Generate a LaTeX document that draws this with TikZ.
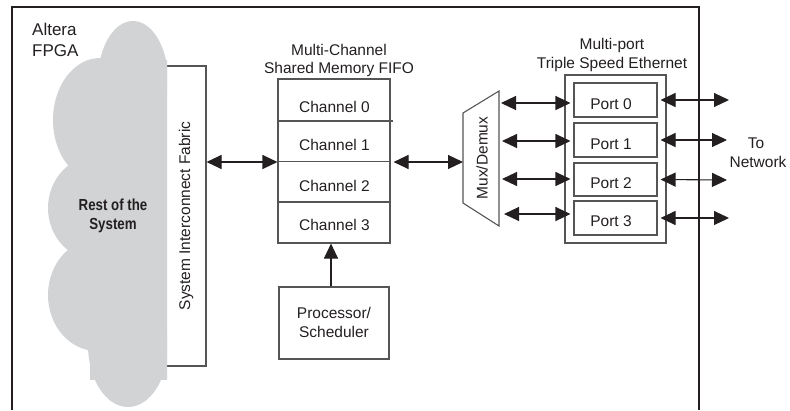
\documentclass[tikz,border=0pt]{standalone}
\usepackage{fontspec}
\setmainfont{Liberation Sans}
\newfontfamily\condb{Liberation Sans}[FakeStretch=0.83]
\usetikzlibrary{arrows.meta,calc}
\definecolor{boxgray}{HTML}{555555}
\definecolor{txt}{HTML}{231F20}
\definecolor{cloudc}{HTML}{D1D3D4}
\begin{document}
\begin{tikzpicture}[x=1pt,y=-1pt,
  box/.style={draw=boxgray, line width=1.1pt, inner sep=0pt},
  frame/.style={draw=txt, line width=1.1pt},
  lbl/.style={font=\fontsize{15.5}{19}\selectfont, text=txt, inner sep=0pt},
  biarrow/.style={draw=txt, line width=1.1pt, {Triangle[length=15pt,width=14pt]}-{Triangle[length=15pt,width=14pt]}},
  onearrow/.style={draw=txt, line width=1.1pt, -{Triangle[length=15pt,width=14pt]}}]
\useasboundingbox (0,0) rectangle (790,410);
% outer FPGA frame
\draw[frame] (12,410) -- (12,7) -- (699,7) -- (699,410);
\node[lbl, font=\fontsize{17}{21}\selectfont, anchor=base west] (alt1) at (32,35) {Altera};
\node[lbl, font=\fontsize{17}{21}\selectfont, anchor=base west] (alt2) at (32,56) {FPGA};
% system interconnect fabric
\node[box, minimum width=56pt, minimum height=300pt] (fabric) at (178,216) {};
% cloud
\begin{scope}
\clip (0,0) rectangle (167,410);
\fill[cloudc] (133,80) ellipse [x radius=35pt, y radius=59pt];
\fill[cloudc] (100,120) ellipse [x radius=47pt, y radius=62pt];
\fill[cloudc] (96,208) ellipse [x radius=48pt, y radius=52pt];
\fill[cloudc] (97,295) ellipse [x radius=49pt, y radius=56pt];
\fill[cloudc] (128,345) ellipse [x radius=40pt, y radius=62pt];
\fill[cloudc] (90,60) rectangle (170,380);
\end{scope}
\node[lbl, font=\condb\bfseries\fontsize{16}{19}\selectfont, anchor=base] (rest1) at (113,210) {Rest of the};
\node[lbl, font=\condb\bfseries\fontsize{16}{19}\selectfont, anchor=base] (rest2) at (113,229) {System};
\node[lbl, rotate=90] (fabtxt) at (186,216) {System Interconnect Fabric};
% FIFO
\node[lbl, anchor=base] (fifot1) at (339,55) {Multi-Channel};
\node[lbl, anchor=base] (fifot2) at (339,73) {Shared Memory FIFO};
\node[box, minimum width=112pt, minimum height=164pt] (fifo) at (334,161) {};
\draw[box] (278,121) -- (393,121);
\draw[box] (278,161.5) -- (390,161.5);
\draw[box] (278,202) -- (390,202);
\node[lbl, anchor=base] (ch0) at (334.5,112) {Channel 0};
\node[lbl, anchor=base] (ch1) at (334.5,150) {Channel 1};
\node[lbl, anchor=base] (ch2) at (334.5,191) {Channel 2};
\node[lbl, anchor=base] (ch3) at (334.5,230) {Channel 3};
% processor
\node[box, minimum width=110pt, minimum height=72pt] (proc) at (334,323) {};
\node[lbl, anchor=base] (proct1) at (334,318) {Processor/};
\node[lbl, anchor=base] (proct2) at (334,337) {Scheduler};
% mux
\draw[box] (463,113) -- (499,91) -- (499,226) -- (463,203) -- cycle;
\coordinate (muxin) at (463,162);
\coordinate (mux0) at (501,103);
\coordinate (mux1) at (502,141);
\coordinate (mux2) at (502,179);
\coordinate (mux3) at (504,214);
\node[lbl, rotate=90] (muxtxt) at (482,158) {Mux/Demux};
% TSE
\node[lbl, anchor=base] (tset1) at (612,49) {Multi-port};
\node[lbl, anchor=base] (tset2) at (612,68) {Triple Speed Ethernet};
\node[box, minimum width=101pt, minimum height=168pt] (tse) at (615.5,159) {};
\node[box, minimum width=83pt, minimum height=34pt] (p0) at (615.5,100) {};
\node[box, minimum width=83pt, minimum height=34pt] (p1) at (615.5,140) {};
\node[box, minimum width=83pt, minimum height=33pt] (p2) at (615.5,179.5) {};
\node[box, minimum width=83pt, minimum height=34pt] (p3) at (615.5,218) {};
\node[lbl, anchor=base] (p0t) at (611,109) {Port 0};
\node[lbl, anchor=base] (p1t) at (611,149) {Port 1};
\node[lbl, anchor=base] (p2t) at (611,188) {Port 2};
\node[lbl, anchor=base] (p3t) at (611,226) {Port 3};
\coordinate (n0) at (729,100);
\coordinate (n1) at (727,140);
\coordinate (n2) at (727,180);
\coordinate (n3) at (729,218);
\node[lbl, anchor=base] (to1) at (756,148) {To};
\node[lbl, anchor=base] (to2) at (758,167) {Network};
% connectors
\draw[biarrow] (fabric.east |- 0,162) -- (fifo.west |- 0,162);
\draw[biarrow] ([xshift=3pt]fifo.east |- 0,162) -- (muxin);
\draw[onearrow] ([xshift=-3pt]proc.north) -- ([xshift=-3pt]fifo.south);
\draw[biarrow] (mux0) -- ([xshift=-3pt]p0.west |- mux0);
\draw[biarrow] (mux1) -- ([xshift=-3pt]p1.west |- mux1);
\draw[biarrow] (mux2) -- ([xshift=-3pt]p2.west |- mux2);
\draw[biarrow] (mux3) -- ([xshift=-3pt]p3.west |- mux3);
\draw[biarrow] ([xshift=3pt]p0.east) -- (n0);
\draw[biarrow] ([xshift=3pt]p1.east) -- (n1);
\draw[biarrow] ([xshift=3pt]p2.east) -- (n2);
\draw[biarrow] ([xshift=3pt]p3.east) -- (n3);
\end{tikzpicture}
\end{document}
